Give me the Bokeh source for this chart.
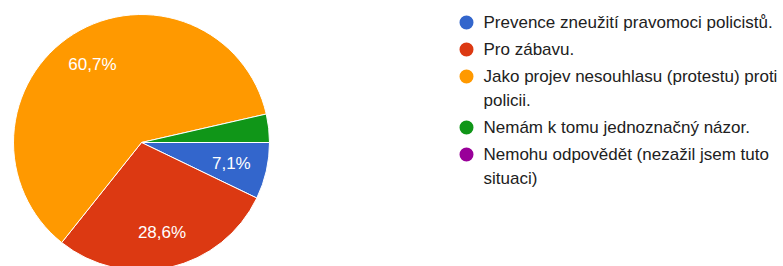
import math
from bokeh.plotting import figure
from bokeh.models import ColumnDataSource, Range1d
from bokeh.core.properties import value
from bokeh.embed import file_html
from bokeh.resources import INLINE

categories = [
    "Prevence zneužití pravomoci policistů.",
    "Pro zábavu.",
    "Jako projev nesouhlasu (protestu) proti\npolicii.",
    "Nemám k tomu jednoznačný názor.",
    "Nemohu odpovědět (nezažil jsem tuto\nsituaci)",
]
counts = [2, 8, 17, 1, 0]
colors = ["#3366cc", "#dc3912", "#ff9900", "#109618", "#990099"]

W, H = 783, 266
CX, CY, R = 141, H - 142, 128
FONT = "Liberation Sans"
FS = "17px"

p = figure(width=W, height=H, output_backend="svg", toolbar_location=None,
           x_range=Range1d(0, W), y_range=Range1d(0, H), min_border=0)
p.axis.visible = False
p.grid.visible = False
p.outline_line_color = None
p.background_fill_color = "white"
p.border_fill_color = "white"

total = sum(counts)
starts, ends, wcols, lx, ly, labels = [], [], [], [], [], []
acc = 0.0
for c, col in zip(counts, colors):
    frac = c / total
    a0 = -acc * 2 * math.pi
    a1 = -(acc + frac) * 2 * math.pi
    if c > 0:
        starts.append(a0)
        ends.append(a1)
        wcols.append(col)
    mid = (a0 + a1) / 2
    if frac >= 0.05:
        lx.append(CX + 0.72 * R * math.cos(mid))
        ly.append(CY + 0.72 * R * math.sin(mid))
        labels.append(f"{frac*100:.1f}%".replace(".", ","))
    acc += frac

src = ColumnDataSource(dict(start=starts, end=ends, color=wcols))
p.wedge(x=CX, y=CY, radius=R, start_angle="start", end_angle="end",
        direction="clock", fill_color="color", line_color="white",
        line_width=1, source=src)

p.text(x=lx, y=ly, text=labels, text_color="white", text_font=value(FONT),
       text_font_size=FS, text_align="center", text_baseline="middle")

# legend
LX, LY0 = 466, H - 22
dy_entry, dy_line = 27, 24
ys = []
y = LY0
for cat in categories:
    ys.append(y)
    y -= dy_entry + dy_line * cat.count("\n")
p.scatter(x=[LX] * len(categories), y=ys, size=14, fill_color=colors,
          line_color=None, marker="circle")
tx, ty, tt = [], [], []
for cat, yy in zip(categories, ys):
    for i, line in enumerate(cat.split("\n")):
        tx.append(LX + 17)
        ty.append(yy - i * dy_line)
        tt.append(line)
p.text(x=tx, y=ty, text=tt, text_color="#212121", text_font=value(FONT),
       text_font_size=FS, text_align="left", text_baseline="middle")

open("out.html", "w").write(file_html(p, INLINE))
